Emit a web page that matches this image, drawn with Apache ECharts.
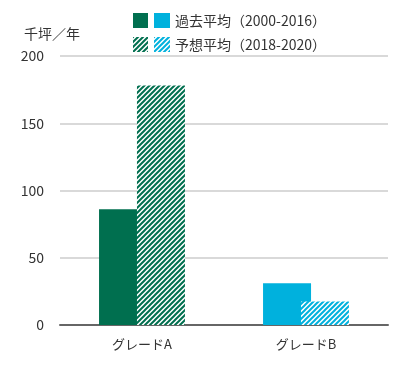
<!DOCTYPE html>
<html><head><meta charset="utf-8">
<script src="https://cdn.jsdelivr.net/npm/echarts@6/dist/echarts.min.js"></script>
<style>html,body{margin:0;padding:0;background:#fff}#c{width:400px;height:388px}</style>
</head><body><div id="c"></div>
<script>
const categories = ['グレードA', 'グレードB'];
const pastName = '過去平均（2000-2016）';
const futureName = '予想平均（2018-2020）';
const pastValues = [86, 31];
const futureValues = [178, 17.5];
const yAxisName = '千坪／年';

const GREEN = '#006f4f', BLUE = '#00b1dd';
function hatch(color) {
  const c = document.createElement('canvas');
  c.width = 5; c.height = 5;
  const g = c.getContext('2d');
  g.fillStyle = '#fff'; g.fillRect(0, 0, 5, 5);
  g.strokeStyle = color; g.lineWidth = 2;
  g.beginPath();
  g.moveTo(-1, 6); g.lineTo(6, -1);
  g.moveTo(-1, 1); g.lineTo(1, -1);
  g.moveTo(4, 6); g.lineTo(6, 4);
  g.stroke();
  return { image: c, repeat: 'repeat' };
}
const solidColors = [GREEN, BLUE];
const hatchColors = [hatch(GREEN), hatch(BLUE)];
const FONT = '"Noto Sans CJK JP", sans-serif';

const chart = echarts.init(document.getElementById('c'));
chart.setOption({
  animation: false,
  textStyle: { fontFamily: FONT },
  grid: { left: 60, right: 12, top: 56, bottom: 63 },
  legend: {
    orient: 'vertical', left: 154, top: 13, padding: 0,
    itemWidth: 16, itemHeight: 15, itemGap: 9,
    icon: 'rect',
    textStyle: { fontSize: 14, color: '#333', fontFamily: FONT },
    data: [pastName, futureName]
  },
  graphic: [
    { type: 'rect', left: 133, top: 13, shape: { width: 15, height: 15 }, style: { fill: GREEN } },
    { type: 'rect', left: 133, top: 37, shape: { width: 15, height: 15 }, style: { fill: hatchColors[0] } }
  ],
  xAxis: {
    type: 'category', data: categories,
    axisTick: { show: false },
    axisLine: { lineStyle: { color: '#666', width: 2 } },
    axisLabel: { color: '#333', fontSize: 13, margin: 13, fontFamily: FONT }
  },
  yAxis: {
    type: 'value', min: 0, max: 200, interval: 50,
    name: yAxisName, nameLocation: 'end', nameGap: 15,
    nameTextStyle: { color: '#333', fontSize: 14, fontFamily: FONT, padding: [0, 16, 0, 0] },
    axisLine: { show: false }, axisTick: { show: false },
    axisLabel: { color: '#333', fontSize: 14, margin: 16, fontFamily: FONT },
    splitLine: { lineStyle: { color: '#ccc', width: 1.5 } }
  },
  series: [
    {
      name: pastName, type: 'bar', barWidth: 48, barGap: '-21%',
      itemStyle: { color: BLUE },
      data: pastValues.map((v, i) => ({ value: v, itemStyle: { color: solidColors[i] } }))
    },
    {
      name: futureName, type: 'bar', barWidth: 48,
      itemStyle: { color: hatchColors[1] },
      data: futureValues.map((v, i) => ({ value: v, itemStyle: { color: hatchColors[i] } }))
    }
  ]
});
</script></body></html>
